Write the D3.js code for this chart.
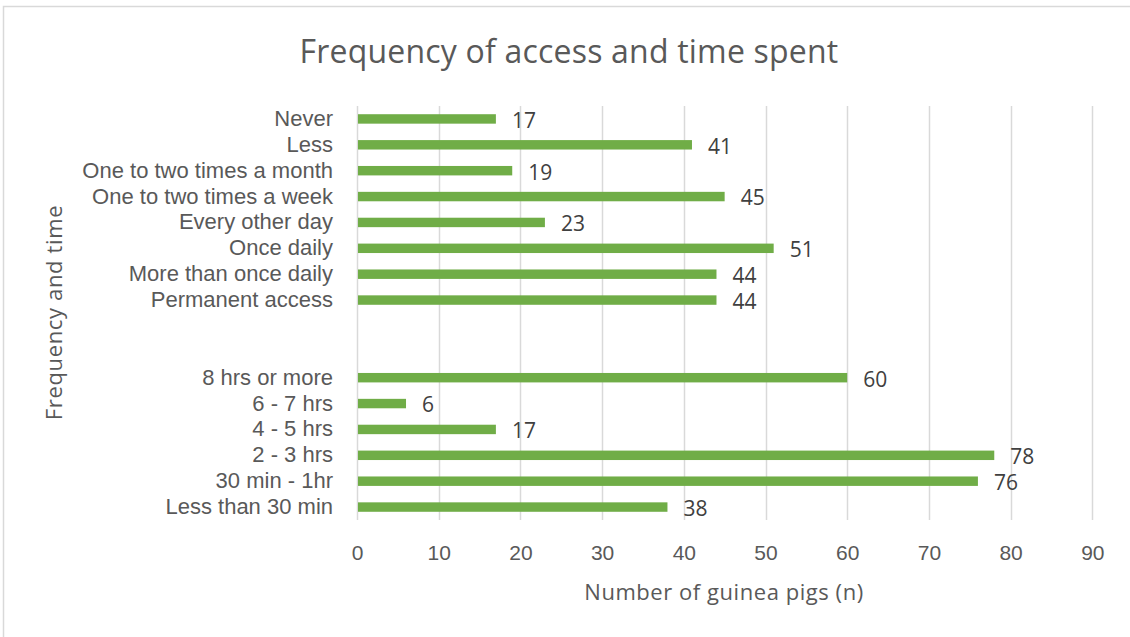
<!DOCTYPE html>
<html>
<head>
<meta charset="utf-8">
<script src="https://cdn.jsdelivr.net/npm/d3@7"></script>
<style>
  html, body { margin: 0; padding: 0; background: #ffffff; }
  svg { display: block; font-family: "Open Sans", "DejaVu Sans", sans-serif; }
</style>
</head>
<body>
<svg id="chart" width="1130" height="637"></svg>
<script>
// Category rows, top to bottom; empty strings are the spacer rows between the two groups
const categories = [
  "Never",
  "Less",
  "One to two times a month",
  "One to two times a week",
  "Every other day",
  "Once daily",
  "More than once daily",
  "Permanent access",
  "",
  "",
  "8 hrs or more",
  "6 - 7 hrs",
  "4 - 5 hrs",
  "2 - 3 hrs",
  "30 min - 1hr",
  "Less than 30 min"
];
// Number of guinea pigs per row (null for spacer rows)
const counts = [17, 41, 19, 45, 23, 51, 44, 44, null, null, 60, 6, 17, 78, 76, 38];
const xTicks = [0, 10, 20, 30, 40, 50, 60, 70, 80, 90];

const titleText = "Frequency of access and time spent";
const xTitle = "Number of guinea pigs (n)";
const yTitle = "Frequency and time";

const svg = d3.select("#chart");
const plot = { left: 357, right: 1092.3, top: 106, bottom: 520 };

const x = d3.scaleLinear().domain([0, 90]).range([plot.left, plot.right]);
const y = d3.scaleBand()
  .domain(d3.range(categories.length))
  .range([plot.top, plot.bottom])
  .paddingInner(0.635)
  .paddingOuter(0.3175);

const textColor = "#595959";

// Chart frame
svg.append("rect")
  .attr("x", 3.5).attr("y", 6.5)
  .attr("width", 1140).attr("height", 640)
  .attr("fill", "none")
  .attr("stroke", "#d9d9d9")
  .attr("stroke-width", 1.5);

// Title
svg.append("text")
  .attr("x", 569).attr("y", 63)
  .attr("text-anchor", "middle")
  .attr("font-size", 32)
  .attr("letter-spacing", 0.2)
  .attr("fill", textColor)
  .text(titleText);

// Vertical gridlines (the one at 0 doubles as the category axis line)
svg.append("g")
  .selectAll("line")
  .data(xTicks)
  .join("line")
  .attr("x1", d => Math.round(x(d)) + 0.5)
  .attr("x2", d => Math.round(x(d)) + 0.5)
  .attr("y1", plot.top)
  .attr("y2", plot.bottom)
  .attr("stroke", "#d9d9d9")
  .attr("stroke-width", 1.5);

// Value axis tick labels
const xAxis = d3.axisBottom(x).tickValues(xTicks).tickSize(0).tickPadding(0);
const xg = svg.append("g")
  .attr("transform", `translate(0,${plot.bottom})`)
  .call(xAxis);
xg.select(".domain").remove();
xg.selectAll("text")
  .attr("y", 39.5)
  .attr("dy", null)
  .attr("font-size", 21)
  .attr("font-family", null)
  .attr("fill", textColor);

// Category axis labels
const yAxis = d3.axisLeft(y).tickFormat(i => categories[i]).tickSize(0).tickPadding(24);
const yg = svg.append("g")
  .attr("transform", `translate(${plot.left},0)`)
  .call(yAxis);
yg.select(".domain").remove();
yg.selectAll("text")
  .attr("font-size", 22)
  .attr("font-family", null)
  .attr("fill", textColor);

// Bars
const rows = categories.map((c, i) => ({ i, c, v: counts[i] })).filter(d => d.v !== null);

svg.append("g")
  .selectAll("rect")
  .data(rows)
  .join("rect")
  .attr("x", x(0) + 1)
  .attr("y", d => y(d.i))
  .attr("width", d => x(d.v) - x(0) - 1)
  .attr("height", y.bandwidth())
  .attr("fill", "#70ad47");

// Value labels
svg.append("g")
  .selectAll("text")
  .data(rows)
  .join("text")
  .attr("x", d => x(d.v) + 16)
  .attr("y", d => y(d.i) + y.bandwidth() / 2)
  .attr("dy", "0.42em")
  .attr("font-size", 21)
  .attr("fill", "#404040")
  .text(d => d.v);

// Axis titles
svg.append("text")
  .attr("x", 724).attr("y", 600)
  .attr("text-anchor", "middle")
  .attr("font-size", 22)
  .attr("letter-spacing", 0.55)
  .attr("fill", textColor)
  .text(xTitle);

svg.append("text")
  .attr("transform", "translate(61.5,312.5) rotate(-90)")
  .attr("text-anchor", "middle")
  .attr("font-size", 22)
  .attr("letter-spacing", 0.65)
  .attr("fill", textColor)
  .text(yTitle);
</script>
</body>
</html>
